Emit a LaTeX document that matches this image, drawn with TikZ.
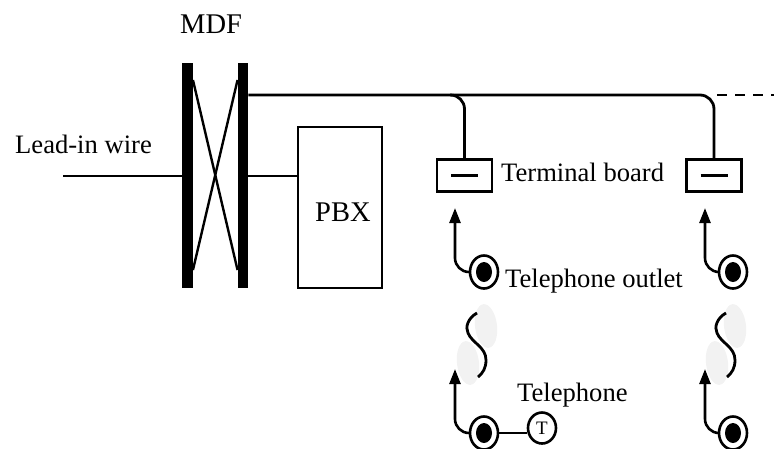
\documentclass[tikz,border=0pt]{standalone}
\usepackage{fontspec}
\setmainfont{Liberation Serif}
\usetikzlibrary{shapes.geometric,arrows.meta}
\begin{document}
\begin{tikzpicture}[x=1pt,y=-1pt]
	\tikzstyle{fil}=[line width=2.8pt]
	\tikzstyle{croix}=[line width=2.4pt]
	\tikzstyle{fleche}=[line width=2.6pt,rounded corners=14pt,-{Triangle[width=11pt,length=15pt]}]
	\tikzstyle{barre}=[fill=black,inner sep=0pt,minimum width=10.5pt,minimum height=225pt]
	\tikzstyle{boite}=[draw,line width=2.4pt,inner sep=0pt]
	\tikzstyle{borne}=[boite,minimum width=55pt,minimum height=32pt]
	\tikzstyle{prise}=[draw,fill=white,ellipse,line width=2.6pt,inner sep=0pt,minimum width=28pt,minimum height=33pt]
	\tikzstyle{trou}=[fill=black,ellipse,inner sep=0pt,minimum width=16pt,minimum height=20pt]
	\tikzstyle{combine}=[fill=black!5,ellipse,inner sep=0pt,minimum width=22pt,minimum height=44pt]
	\tikzstyle{texte}=[anchor=base west,inner sep=0pt,font=\fontsize{26.6}{30}\selectfont]
	\tikzstyle{grand}=[texte,font=\fontsize{28.5}{30}\selectfont]
	\useasboundingbox (0,0) rectangle (774,448);
	\node[barre] (BarG) at (187.5,175.5) {};
	\node[barre] (BarD) at (243,175.5) {};
	\node[boite,minimum width=84pt,minimum height=161pt] (PBX) at (340,207.5) {};
	\node[borne] (BorneA) at (464.5,175.5) {};
	\node[borne] (BorneB) at (714,175.5) {};
	\node[combine,rotate=7] (CombA) at (486,326) {};
	\node[combine,rotate=7] (CombB) at (468,363) {};
	\node[combine,rotate=7] (CombC) at (735,326) {};
	\node[combine,rotate=7] (CombD) at (717,363) {};
	\node[prise] (PriseA) at (484,272) {};
	\node[prise] (PriseB) at (733,272) {};
	\node[prise] (PriseC) at (484,433) {};
	\node[prise] (PriseD) at (733,433) {};
	\node[trou] (TrouA) at (PriseA) {};
	\node[trou] (TrouB) at (PriseB) {};
	\node[trou] (TrouC) at (PriseC) {};
	\node[trou] (TrouD) at (PriseD) {};
	\node[prise,minimum height=31pt,font=\fontsize{19}{20}\selectfont] (Tel) at (542,428) {T};
	\node[grand] (MDF) at (180,33) {MDF};
	\node[texte] (Lead) at (15,153) {Lead-in wire};
	\node[grand] (LabelPBX) at (315,221) {PBX};
	\node[texte] (Terminal) at (501,181) {Terminal board};
	\node[texte] (Outlet) at (505,287) {Telephone outlet};
	\node[texte] (Telephone) at (517,401) {Telephone};
	\coordinate (Entree) at (63,176);
	\coordinate (Ligne) at (BarD.east |- 0,95);
	\coordinate (Depart) at (450,95);
	\coordinate (Pointilles) at (717,95);
	\coordinate (Fin) at (774,95);
	\coordinate (PointeA) at (455,208);
	\coordinate (PointeB) at (705,208);
	\coordinate (PointeC) at (455,369);
	\coordinate (PointeD) at (705,369);
	\draw[fil] (Entree)--(BarG.west |- Entree);
	\draw[fil] (BarD.east |- Entree)--(PBX.west |- Entree);
	\draw[fil,rounded corners=14pt] (Ligne)-|(BorneB.north);
	\draw[fil,rounded corners=14pt] (Depart)-|(BorneA.north);
	\draw[fil,dashed,dash pattern=on 10pt off 8pt] (Pointilles)--(Fin);
	\draw[croix] (BarG.east |- 0,80)--(BarD.west |- 0,270);
	\draw[croix] (BarD.west |- 0,80)--(BarG.east |- 0,270);
	\draw[fil] ([xshift=-13.5pt]BorneA.center)--([xshift=13.5pt]BorneA.center);
	\draw[fil] ([xshift=-13.5pt]BorneB.center)--([xshift=13.5pt]BorneB.center);
	\draw[fleche] (PriseA.west)-|(PointeA);
	\draw[fleche] (PriseB.west)-|(PointeB);
	\draw[fleche] (PriseC.west)-|(PointeC);
	\draw[fleche] (PriseD.west)-|(PointeD);
	\draw[fil] (PriseC.east |- 0,433)--(Tel.west |- 0,433);
	\draw[fil] (477,313) .. controls (468,318) and (465,327) .. (468,333) .. controls (472,343) and (486,347) .. (486,360) .. controls (486,368) and (483,373) .. (478,377);
	\draw[fil] (726,313) .. controls (717,318) and (714,327) .. (717,333) .. controls (721,343) and (735,347) .. (735,360) .. controls (735,368) and (732,373) .. (727,377);
\end{tikzpicture}
\end{document}
